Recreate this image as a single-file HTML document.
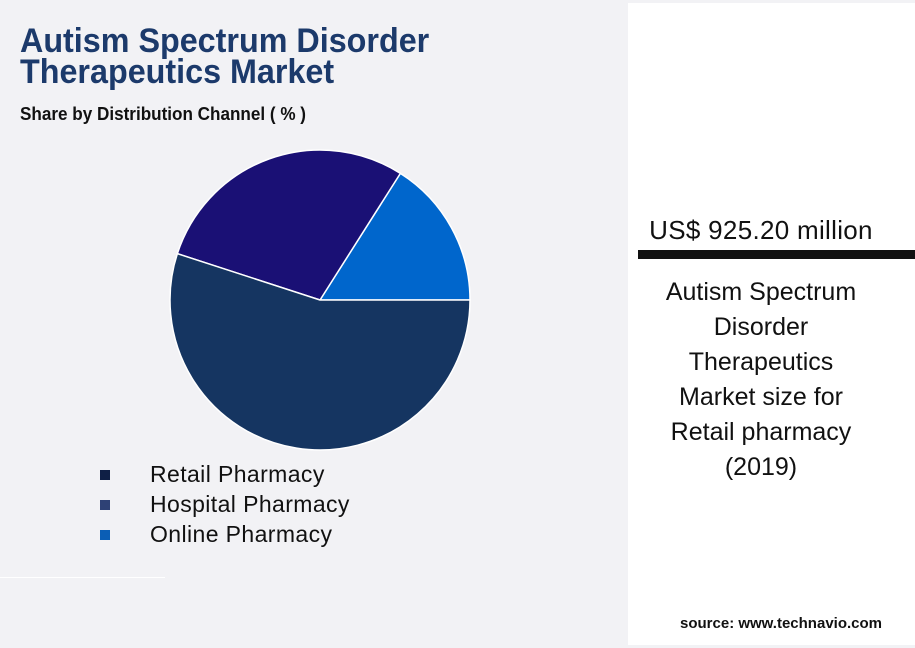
<!DOCTYPE html>
<html><head><meta charset="utf-8"><style>
body{margin:0;width:915px;height:648px;background:#f2f2f5;font-family:"Liberation Sans",sans-serif;position:relative;overflow:hidden}
.t{position:absolute;white-space:nowrap;transform-origin:0 0}
</style></head><body>
<div class="t" style="left:20px;top:26px;font-size:34px;line-height:31px;font-weight:bold;color:#1c3a6b;transform:scaleX(0.95)">Autism Spectrum Disorder<br>Therapeutics Market</div>
<div class="t" style="left:20px;top:104px;font-size:18px;font-weight:bold;color:#111;transform:scaleX(0.95)">Share by Distribution Channel ( % )</div>
<div style="position:absolute;left:0;top:577px;width:165px;height:1px;background:#fff"></div>
<svg id="pie" width="915" height="648" style="position:absolute;left:0;top:0"></svg>
<div>
<div><div style="position:absolute;left:100px;top:470px;width:10px;height:10px;background:#0f1f45"></div><div class="t" style="left:150px;top:461px;font-size:23px;letter-spacing:0.4px;color:#111">Retail Pharmacy</div></div>
<div><div style="position:absolute;left:100px;top:500px;width:10px;height:10px;background:#2e4175"></div><div class="t" style="left:150px;top:491px;font-size:23px;letter-spacing:0.4px;color:#111">Hospital Pharmacy</div></div>
<div><div style="position:absolute;left:100px;top:530px;width:10px;height:10px;background:#0b5eb5"></div><div class="t" style="left:150px;top:521px;font-size:23px;letter-spacing:0.4px;color:#111">Online Pharmacy</div></div>
</div>
<div style="position:absolute;left:628px;top:3px;width:287px;height:642px;background:#fff">
<div style="position:absolute;left:0;top:212px;width:266px;text-align:center;font-size:26px;letter-spacing:0.3px;color:#111">US$ 925.20 million</div>
<div style="position:absolute;left:10px;top:247px;width:277px;height:9px;background:#111"></div>
<div style="position:absolute;left:0;top:272px;width:266px;text-align:center;font-size:25px;line-height:35px;color:#111">Autism Spectrum<br>Disorder<br>Therapeutics<br>Market size for<br>Retail pharmacy<br>(2019)</div>
<div style="position:absolute;left:52px;top:612px;font-size:15px;font-weight:bold;color:#111">source: www.technavio.com</div>
</div>
<script>
const categories=["Online Pharmacy","Hospital Pharmacy","Retail Pharmacy"];
const shares=[16,29,55];
const colors=["#0066cc","#1a1075","#153561"];
const svg=document.getElementById('pie');
const cx=320,cy=300,r=150;
const total=shares.reduce((a,b)=>a+b,0);
let a0=0;
shares.forEach((v,i)=>{
  const a1=a0+v/total*2*Math.PI;
  const x0=cx+r*Math.cos(a0),y0=cy-r*Math.sin(a0),x1=cx+r*Math.cos(a1),y1=cy-r*Math.sin(a1);
  const large=(a1-a0)>Math.PI?1:0;
  const p=document.createElementNS('http://www.w3.org/2000/svg','path');
  p.setAttribute('d',`M${cx},${cy}L${x0},${y0}A${r},${r} 0 ${large} 0 ${x1},${y1}Z`);
  p.setAttribute('fill',colors[i]);
  p.setAttribute('stroke','#fff');
  p.setAttribute('stroke-width','1.5');
  
  
  svg.appendChild(p);
  a0=a1;
});
</script>
</body></html>
